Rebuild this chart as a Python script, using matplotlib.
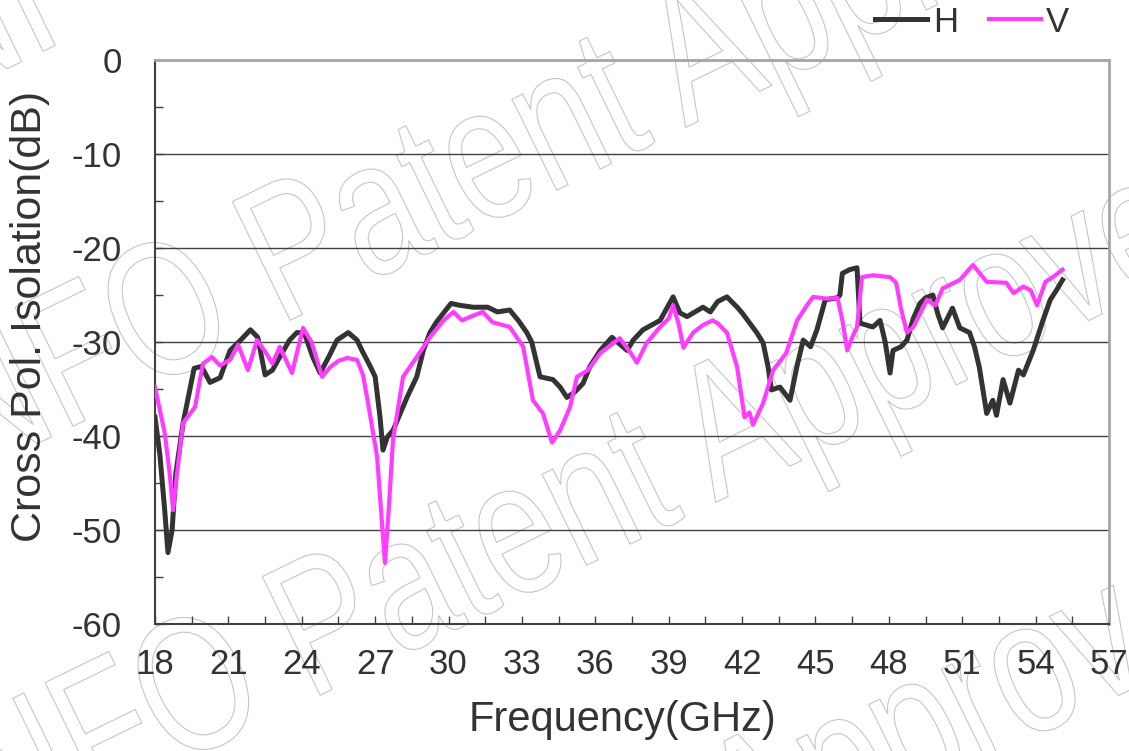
import matplotlib
matplotlib.use("Agg")
import matplotlib.pyplot as plt
from matplotlib.textpath import TextPath
from matplotlib.patches import PathPatch
from matplotlib.font_manager import FontProperties
from matplotlib.transforms import Affine2D
from matplotlib.ticker import MultipleLocator

plt.rcParams["font.family"] = ["Liberation Sans", "DejaVu Sans"]
plt.rcParams["axes.unicode_minus"] = False

# H polarisation (GHz, dB)
h_freq = [18.0, 18.2, 18.4, 18.53, 18.7, 18.85, 19.15, 19.6, 19.9, 20.25, 20.66,
          21.07, 21.5, 21.9, 22.2, 22.5, 22.8, 23.1, 23.5, 23.8, 24.1, 24.45,
          24.75, 25.1, 25.44, 25.9, 26.26, 26.46, 26.8, 27.0, 27.2, 27.32, 27.5,
          27.73, 28.14, 28.3, 28.7, 28.97, 29.24, 29.5, 29.8, 30.1, 30.47, 31.0,
          31.6, 32.0, 32.5, 32.85, 33.2, 33.4, 33.74, 34.27, 34.56, 34.84, 35.17,
          35.5, 35.78, 36.2, 36.68, 37.3, 37.55, 37.95, 38.65, 39.18, 39.46,
          39.75, 40.4, 40.7, 41.0, 41.38, 41.8, 42.0, 42.6, 42.86, 43.06, 43.2,
          43.55, 43.96, 44.25, 44.5, 44.8, 45.06, 45.4, 45.9, 46.0, 46.1, 46.4,
          46.7, 46.82, 47.35, 47.64, 47.85, 48.05, 48.17, 48.5, 48.74, 49.0,
          49.27, 49.5, 49.8, 50.0, 50.2, 50.6, 50.9, 51.3, 51.5, 51.7, 52.0,
          52.25, 52.4, 52.67, 52.95, 53.3, 53.5, 53.9, 54.3, 54.6, 54.85, 55.1]
h_db = [-38.0, -42.0, -48.0, -52.4, -50.0, -44.0, -38.6, -32.8, -32.6, -34.3, -33.8,
        -30.9, -29.8, -28.7, -29.5, -33.5, -33.0, -31.6, -29.8, -29.0, -29.0, -31.6,
        -33.3, -31.6, -29.8, -29.0, -29.8, -30.9, -32.6, -33.7, -38.0, -41.5, -40.1,
        -39.4, -36.9, -35.9, -33.7, -30.9, -29.0, -27.9, -26.9, -25.9, -26.1, -26.3,
        -26.3, -26.8, -26.6, -27.7, -29.0, -30.0, -33.7, -34.0, -34.8, -35.9, -35.3,
        -34.4, -32.6, -30.9, -29.5, -30.9, -29.8, -28.7, -27.7, -25.2, -26.9,
        -27.3, -26.3, -26.8, -25.7, -25.2, -26.3, -26.9, -29.0, -30.1, -32.6, -35.1,
        -34.8, -36.2, -32.5, -29.8, -30.5, -28.7, -25.5, -25.3, -25.0, -22.7, -22.3,
        -22.1, -28.0, -28.4, -27.7, -30.0, -33.3, -30.9, -30.5, -29.8, -27.5,
        -25.9, -25.3, -25.0, -27.0, -28.5, -26.4, -28.5, -29.0, -30.5, -32.7, -37.6,
        -36.2, -37.8, -34.0, -36.5, -33.0, -33.5, -30.9, -27.7, -25.5, -24.5, -23.4]

# V polarisation
v_freq = [18.0, 18.4, 18.6, 18.74, 18.9, 19.15, 19.64, 19.96, 20.33, 20.66, 21.07,
          21.4, 21.8, 22.17, 22.5, 22.8, 23.1, 23.6, 24.05, 24.4, 24.83, 25.15,
          25.5, 25.85, 26.26, 26.5, 26.67, 27.08, 27.3, 27.4, 27.55, 27.73, 28.14,
          28.7, 29.24, 29.8, 30.2, 30.55, 31.0, 31.4, 31.8, 32.5, 33.05, 33.45,
          33.86, 34.23, 34.56, 34.97, 35.25, 35.7, 36.2, 37.0, 37.4, 37.7, 38.1,
          38.65, 39.0, 39.18, 39.4, 39.6, 40.0, 40.4, 40.8, 41.0, 41.38, 41.8,
          42.1, 42.3, 42.45, 42.86, 43.27, 43.8, 44.25, 44.65, 44.9, 45.5, 45.9,
          46.1, 46.3, 46.5, 46.7, 46.9, 47.35, 48.05, 48.3, 48.5, 48.74, 49.0,
          49.56, 49.9, 50.2, 50.9, 51.44, 52.0, 52.8, 53.1, 53.5, 53.8, 54.06,
          54.4, 54.7, 55.1]
v_db = [-34.8, -39.7, -44.0, -47.9, -44.0, -38.6, -36.9, -32.3, -31.6, -32.5, -31.9,
        -30.3, -33.0, -29.8, -31.0, -32.3, -30.5, -33.3, -28.5, -30.0, -33.7, -32.7,
        -32.0, -31.7, -31.9, -33.5, -35.9, -42.2, -50.0, -53.5, -48.0, -40.4, -33.7,
        -31.6, -29.5, -27.7, -26.8, -27.7, -27.2, -26.8, -27.9, -28.4, -30.5, -36.2,
        -37.6, -40.7, -39.4, -36.9, -33.7, -33.0, -31.2, -29.6, -31.0, -32.2, -30.1,
        -28.4, -27.5, -26.1, -28.0, -30.6, -29.0, -28.2, -27.7, -28.0, -29.0, -32.7,
        -38.0, -37.5, -38.8, -36.5, -33.0, -31.2, -27.7, -26.1, -25.2, -25.4, -25.3,
        -27.7, -30.9, -29.5, -28.4, -23.1, -22.9, -23.1, -23.7, -26.5, -29.0, -28.4,
        -25.5, -26.1, -24.3, -23.4, -21.8, -23.6, -23.7, -24.8, -24.1, -24.5, -26.1,
        -23.6, -23.1, -22.3]

series_names = ["H", "V"]
WATERMARK = "INFO Patent Approved"

W, H = 1129, 751
DPI = 100
TXT = "#333333"


def add_watermark(fig, x0, y0):
    # outlined, condensed, rotated text; x0/y0 = baseline start in image pixels
    tp = TextPath((0, 0), WATERMARK, size=1,
                  prop=FontProperties(family="Liberation Sans"))
    tr = (Affine2D().scale(145, 192).rotate_deg(26)
          .translate(x0, H - y0).scale(1 / DPI) + fig.dpi_scale_trans)
    fig.patches.append(PathPatch(tp, transform=tr, facecolor="none",
                                 edgecolor="#c6c6c6", lw=0.8, zorder=-1))


fig = plt.figure(figsize=(W / DPI, H / DPI), dpi=DPI)
ax = fig.add_axes([155 / W, 1 - 624 / H, (1109 - 155) / W, (624 - 60) / H])
ax.set_facecolor("none")

for k in range(-1, 3):
    add_watermark(fig, -68 + 30 * k, 495 + 375 * k)

ax.plot(h_freq, h_db, color="#333333", lw=3.6, label=series_names[0], zorder=3)
ax.plot(v_freq, v_db, color="#ff3cff", lw=3.0, label=series_names[1], zorder=4)

ax.set_xlim(18, 57)
ax.set_ylim(-60, 0)
ax.xaxis.set_major_locator(MultipleLocator(3))
ax.xaxis.set_minor_locator(MultipleLocator(1.5))
ax.yaxis.set_major_locator(MultipleLocator(10))
ax.yaxis.set_minor_locator(MultipleLocator(5))
ax.tick_params(which="both", direction="in", color="#404040", width=1.0,
               length=6, labelsize=25, labelcolor=TXT)
ax.tick_params(axis="x", which="both", pad=17, top=False)
ax.tick_params(axis="y", which="both", pad=24, right=False)
ax.grid(axis="y", which="major", color="#404040", lw=1.0, zorder=1)

for side in ["left", "bottom"]:
    ax.spines[side].set_color("#404040")
    ax.spines[side].set_linewidth(1.5)
for side in ["top", "right"]:
    ax.spines[side].set_color("#a6a6a6")
    ax.spines[side].set_linewidth(2.0)

ax.set_xlabel("Frequency(GHz)", fontsize=30, color=TXT)
ax.set_ylabel("Cross Pol. Isolation(dB)", fontsize=31, color=TXT)
ax.xaxis.set_label_coords((622 - 155) / 954, (624 - 700) / 564)
ax.yaxis.set_label_coords((50 - 155) / 954, (624 - 316) / 564)

handles, labels = ax.get_legend_handles_labels()
fig.legend(handles, labels, loc="center left",
           bbox_to_anchor=(858 / W, 1 - 22 / H), ncol=2, frameon=False,
           borderpad=0, handlelength=1.5, handletextpad=0.15,
           columnspacing=0.9, fontsize=25, labelcolor=TXT)

fig.savefig("out.png", dpi=DPI)
